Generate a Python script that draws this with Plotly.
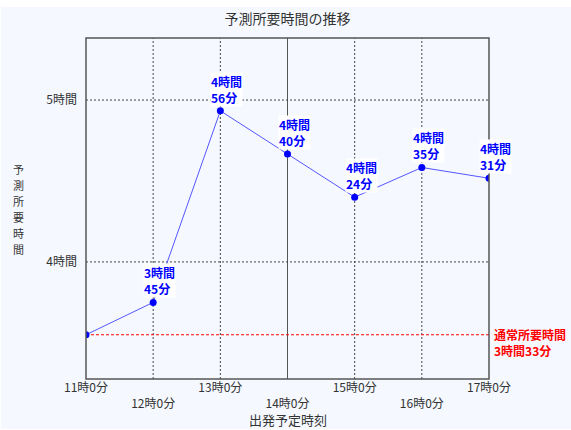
import plotly.graph_objects as go

# ---- data ----
hours = [11, 12, 13, 14, 15, 16, 17]
tick_labels = ["11時0分", "12時0分", "13時0分", "14時0分", "15時0分", "16時0分", "17時0分"]
pred_minutes = [213, 225, 296, 280, 264, 275, 271]
normal_minutes = 213
y_tickvals = [240, 300]
y_ticktext = ["4時間", "5時間"]
title_text = "予測所要時間の推移"
x_title = "出発予定時刻"
y_title = "予測所要時間"
normal_label = "通常所要時間"

FONT = "Noto Sans CJK JP"
BG = "#F5F9FF"
W, H = 571, 430
ML, MR, MT, MB = 86, 82, 38, 51
pw, ph = W - ML - MR, H - MT - MB


def fmt(m):
    return f"{m // 60}時間<br>{m % 60}分"


fig = go.Figure()

# normal-time reference line
fig.add_trace(go.Scatter(
    x=[hours[0], hours[-1]], y=[normal_minutes, normal_minutes], mode="lines",
    line=dict(color="#FF0000", width=1, dash="3px,2px"), hoverinfo="skip", showlegend=False))

fig.add_trace(go.Scatter(
    x=hours, y=pred_minutes, mode="lines+markers",
    line=dict(color="#5555FF", width=1),
    marker=dict(color="#0000FF", size=7),
    showlegend=False))

# x-axis tick text alternating rows
ticktext = [t if i % 2 == 0 else "<br>" + t for i, t in enumerate(tick_labels)]

shapes = [
    # page background (white strip at top)
    dict(type="rect", xref="paper", yref="paper",
         x0=(1 - ML) / pw, x1=(W - ML) / pw,
         y0=(ph + MT - 429) / ph, y1=(ph + MT - 7) / ph,
         fillcolor=BG, line=dict(width=0), layer="below"),
]
# gridlines
for h in hours[1:-1]:
    solid = (h == 14)
    shapes.append(dict(type="line", xref="x", yref="paper", x0=h, x1=h, y0=0, y1=1,
                       line=dict(color="#444444" if not solid else "#555555",
                                 width=1, dash="solid" if solid else "2px,2px"),
                       layer="below"))
for v in y_tickvals:
    shapes.append(dict(type="line", xref="paper", yref="y", x0=0, x1=1, y0=v, y1=v,
                       line=dict(color="#444444", width=1, dash="2px,2px"), layer="below"))
# frame
shapes.append(dict(type="rect", xref="paper", yref="paper", x0=0, x1=1, y0=0, y1=1,
                   line=dict(color="#555555", width=1.5)))

annotations = []
for h, m in zip(hours[1:], pred_minutes[1:]):
    annotations.append(dict(
        x=h, y=m, xref="x", yref="y", text=fmt(m), showarrow=False,
        xanchor="left", yanchor="bottom", xshift=-10, yshift=4, align="left",
        font=dict(family=FONT, size=12, color="#0000FF", weight="bold"),
        bgcolor="#FFFFFF", borderpad=0))

annotations.append(dict(
    x=1, y=normal_minutes, xref="paper", yref="y",
    text=f"{normal_label}<br>{normal_minutes // 60}時間{normal_minutes % 60}分",
    showarrow=False, xanchor="left", yanchor="top", xshift=3, yshift=11, align="left",
    font=dict(family=FONT, size=12, color="#FF0000", weight="bold")))

# vertical (stacked) y-axis title, one character per row
n = len(y_title)
for i, ch in enumerate(y_title):
    annotations.append(dict(
        x=(18 - ML) / pw, y=(ph + MT - 209) / ph, xref="paper", yref="paper",
        text=ch, showarrow=False, xanchor="center", yanchor="middle",
        yshift=((n - 1) / 2 - i) * 16, borderpad=0,
        font=dict(family=FONT, size=11, color="#333333")))

annotations.append(dict(
    x=0.5, y=(ph + MT - H) / ph, xref="paper", yref="paper",
    text=x_title, showarrow=False, xanchor="center", yanchor="bottom", borderpad=0,
    font=dict(family=FONT, size=13, color="#333333")))

fig.update_layout(
    width=W, height=H,
    margin=dict(l=ML, r=MR, t=MT, b=MB),
    paper_bgcolor="#FFFFFF", plot_bgcolor=BG,
    font=dict(family=FONT, size=12, color="#333333"),
    title=dict(text=title_text, x=0.5, xref="paper", xanchor="center",
               y=1 - 19 / H, yanchor="middle",
               font=dict(family=FONT, size=14, color="#333333")),
    xaxis=dict(range=[hours[0], hours[-1]], tickvals=hours, ticktext=ticktext,
               showgrid=False, zeroline=False, showline=False, ticks="",
               tickfont=dict(family=FONT, size=12, color="#333333")),
    yaxis=dict(range=[196.6, 323], tickvals=y_tickvals, ticktext=y_ticktext,
               showgrid=False, zeroline=False, showline=False, ticks="",
               ticklabelstandoff=8,
               tickfont=dict(family=FONT, size=12, color="#333333")),
    shapes=shapes,
    annotations=annotations,
)

fig.write_html("out.html", config={"displayModeBar": False},
               post_script="document.body.style.margin='0';")
